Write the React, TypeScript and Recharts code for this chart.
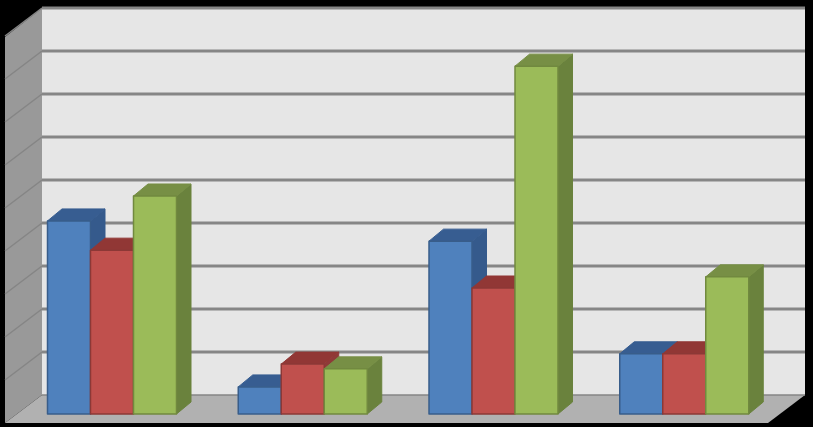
import React from "react";
import { BarChart, Bar, XAxis, YAxis, CartesianGrid } from "recharts";

const categories = ["Group 1", "Group 2", "Group 3", "Group 4"];
const blueValues = [4.49, 0.63, 4.02, 1.4];
const redValues = [3.81, 1.16, 2.93, 1.4];
const greenValues = [5.07, 1.05, 8.09, 3.19];
const valueTicks = [0, 1, 2, 3, 4, 5, 6, 7, 8, 9];

const data = categories.map((name, i) => ({
  name,
  blue: blueValues[i],
  red: redValues[i],
  green: greenValues[i],
}));

// depth of the 3D bars and of the box they stand in
const BAR_DX = 14.5;
const BAR_DY = 12;
const WALL_DX = 25.5;
const WALL_DY = 19;
const FRONT_DX = 11.5;
const FRONT_DY = 9;

function bar3d(front: string, stroke: string, top: string, side: string) {
  return (props: any) => {
    const { x, y, width, height } = props;
    const r = x + width;
    const b = y + height;
    return (
      <g strokeLinejoin="round">
        <polygon
          points={`${r},${y} ${r + BAR_DX},${y - BAR_DY} ${r + BAR_DX},${b - BAR_DY} ${r},${b}`}
          fill={side}
          stroke={side}
        />
        <polygon
          points={`${x},${y} ${x + BAR_DX},${y - BAR_DY} ${r + BAR_DX},${y - BAR_DY} ${r},${y}`}
          fill={top}
          stroke={top}
        />
        <rect x={x} y={y} width={width} height={height} fill={front} stroke={stroke} strokeWidth={1.5} />
      </g>
    );
  };
}

function gridLine(props: any) {
  const { x1, x2, y1 } = props;
  const y = y1 - WALL_DY;
  const left = x1 + WALL_DX;
  const right = x2 + WALL_DX;
  const isBase = y1 > 400;
  return (
    <g key={`grid-${y1}`}>
      {!isBase && (
        <line
          x1={x1 - FRONT_DX}
          y1={y1 + FRONT_DY}
          x2={left}
          y2={y}
          stroke="#858585"
          strokeWidth={1.5}
        />
      )}
      <line x1={left} y1={y} x2={right} y2={y} stroke="#868686" strokeWidth={isBase ? 1.5 : 3} />
    </g>
  );
}

// the reference shows no tick labels, but the grid needs the ticks to exist
const NoTick = () => <g />;

export default function App() {
  return (
    <div style={{ position: "fixed", left: 0, top: 0, width: 813, height: 427, background: "#000" }}>
      {/* the box behind the chart: back wall, side wall, floor */}
      <svg width={813} height={427} style={{ position: "absolute", left: 0, top: 0 }}>
        <polygon points="42,8 805,8 805,395 42,395" fill="#e6e6e6" />
        <polygon points="5,37 42,8 42,395 5,423" fill="#999999" />
        <polygon points="5,423 42,395 805,395 768,423" fill="#b1b1b1" />
      </svg>
      <div style={{ position: "absolute", left: 0, top: 0 }}>
        <BarChart
          width={813}
          height={427}
          data={data}
          margin={{ top: 27, right: 33.5, bottom: 13, left: 16.5 }}
          barGap={0}
          barCategoryGap={31}
        >
          <XAxis dataKey="name" height={0} axisLine={false} tickLine={false} tick={false} />
          <YAxis
            width={0}
            domain={[0, 9]}
            ticks={valueTicks}
            interval={0}
            axisLine={false}
            tickLine={false}
            tick={NoTick}
          />
          <CartesianGrid vertical={false} horizontal={gridLine} />
          <Bar
            dataKey="blue"
            isAnimationActive={false}
            shape={bar3d("#4f81bd", "#385d8a", "#375d91", "#355a8c")}
          />
          <Bar
            dataKey="red"
            isAnimationActive={false}
            shape={bar3d("#c0504d", "#8c3836", "#913735", "#8e3a38")}
          />
          <Bar
            dataKey="green"
            isAnimationActive={false}
            shape={bar3d("#9bbb59", "#71893f", "#778f45", "#6a823d")}
          />
        </BarChart>
      </div>
    </div>
  );
}
